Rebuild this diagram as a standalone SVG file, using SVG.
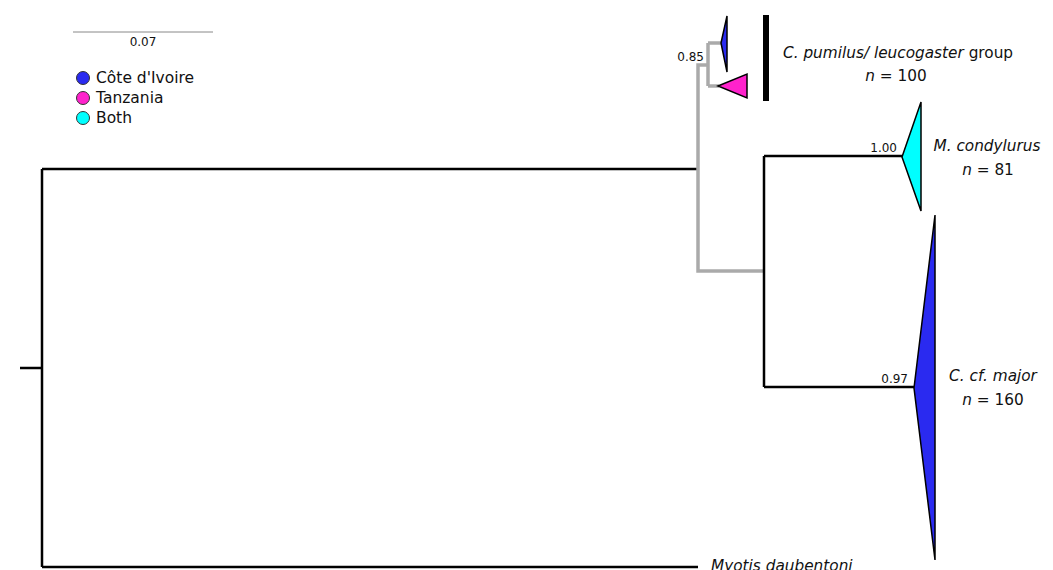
<svg xmlns="http://www.w3.org/2000/svg" width="1053" height="570" viewBox="0 0 1053 570">
<style>
text{font-family:"DejaVu Sans","Liberation Sans",sans-serif;fill:#111}
.lbl{font-size:15.3px}
.leg{font-size:15.5px}
.sup{font-size:12px}
.it{font-style:italic}
.blk{fill:none;stroke:#000;stroke-width:2.5}
.gry{fill:none;stroke:#aaaaaa;stroke-width:3.5}
.tri{stroke:#000;stroke-width:1.5;stroke-linejoin:miter}
</style>
<rect width="1053" height="570" fill="#fff"/>
<g id="scale">
<line x1="73" y1="32" x2="213" y2="32" stroke="#888" stroke-width="1"/>
<text x="143" y="46" text-anchor="middle" class="sup">0.07</text>
</g>
<g id="legend">
<circle cx="83" cy="78" r="6.5" fill="#2a2af0" stroke="#333" stroke-width="1"/>
<text x="96" y="83" class="leg">Côte d'Ivoire</text>
<circle cx="83" cy="98" r="6.5" fill="#ff22cc" stroke="#333" stroke-width="1"/>
<text x="96" y="103" class="leg">Tanzania</text>
<circle cx="83" cy="118" r="6.5" fill="#00ffff" stroke="#333" stroke-width="1"/>
<text x="96" y="123" class="leg">Both</text>
</g>
<g id="connectors">
<path class="blk" d="M20 368H42M42 169V567M42 169H698M42 567H698"/>
<path class="gry" d="M698 169V271H764M698 169V65H708M708 43V86M708 43H721M708 86H719"/>
<path class="blk" d="M764 156V387M764 156H902M764 387H914"/>
</g>
<g id="node-cpumilus-ci">
<polygon class="tri" points="721,43 727,16 727,72" fill="#2a2af0"/>
</g>
<g id="node-cpumilus-tz">
<polygon class="tri" points="718,86 747,74 747,98" fill="#ff22cc"/>
</g>
<g id="node-cpumilus-group">
<rect x="763" y="15" width="6" height="86" fill="#000"/>
<text x="783" y="58" class="lbl"><tspan class="it">C. pumilus/ leucogaster</tspan> group</text>
<text x="896" y="81" text-anchor="middle" class="lbl"><tspan class="it">n</tspan> = 100</text>
<text x="704" y="61" text-anchor="end" class="sup">0.85</text>
</g>
<g id="node-mcondylurus">
<polygon class="tri" points="902,157 921,102 921,211" fill="#00ffff"/>
<text x="897" y="152" text-anchor="end" class="sup">1.00</text>
<text x="987" y="151" text-anchor="middle" class="lbl it">M. condylurus</text>
<text x="988" y="175" text-anchor="middle" class="lbl"><tspan class="it">n</tspan> = 81</text>
</g>
<g id="node-cmajor">
<polygon class="tri" points="914,388 935,215 935,560" fill="#2a2af0"/>
<text x="908" y="383" text-anchor="end" class="sup">0.97</text>
<text x="993" y="381" text-anchor="middle" class="lbl it">C. cf. major</text>
<text x="993" y="405" text-anchor="middle" class="lbl"><tspan class="it">n</tspan> = 160</text>
</g>
<g id="node-myotis">
<text x="711" y="571" class="lbl it">Myotis daubentoni</text>
</g>
</svg>
